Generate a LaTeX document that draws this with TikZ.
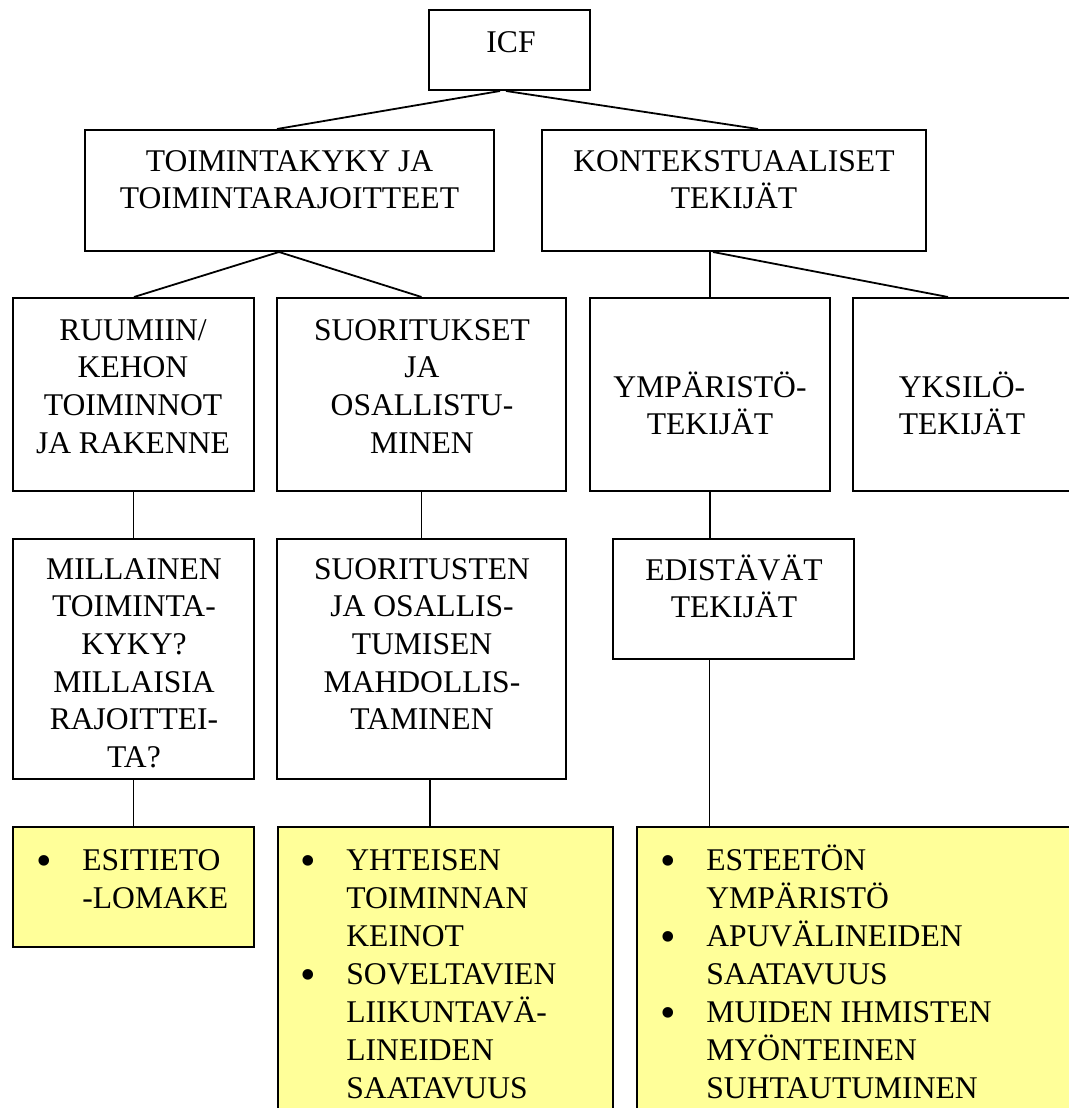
\documentclass[tikz,border=0pt]{standalone}
\usepackage{fontspec}
\setmainfont{Liberation Serif}
\definecolor{lightyel}{HTML}{FFFF99}
\newcommand\bul{\makebox[23pt][l]{\raisebox{-2.6pt}{\scalebox{1.4}{•}}}}
\newcommand\ind{\hspace*{23pt}}
\begin{document}
\begin{tikzpicture}[x=0.5pt,y=-0.5pt,
  box/.style={draw=black,line width=1pt,rectangle,inner sep=0pt,fill=white},
  ybox/.style={draw=black,line width=1.15pt,rectangle,inner sep=0pt,fill=lightyel},
  conn/.style={draw=black,line width=0.9pt},
  lbl/.style={inner sep=0pt,anchor=base,align=center,font=\fontsize{15.8}{18.85}\selectfont},
  blist/.style={inner sep=0pt,anchor=base west,align=left,font=\fontsize{15.8}{19}\selectfont}]
\useasboundingbox (0,0) rectangle (1069,1108);
\clip (0,0) rectangle (1069,1108);
% boxes
\node[box,minimum width=80.5pt,minimum height=40pt] (icf) at (509.5,50) {};
\node[box,minimum width=204.5pt,minimum height=60.5pt] (tk) at (289.5,190.5) {};
\node[box,minimum width=192pt,minimum height=60.5pt] (kt) at (734,190.5) {};
\node[box,minimum width=120.5pt,minimum height=96.5pt] (ru) at (133.5,394.5) {};
\node[box,minimum width=144.5pt,minimum height=96.5pt] (su) at (421.5,394.5) {};
\node[box,minimum width=120pt,minimum height=96.5pt] (ym) at (710,394.5) {};
\node[box,minimum width=109pt,minimum height=96.5pt] (yk) at (962,394.5) {};
\node[box,minimum width=120.5pt,minimum height=120pt] (mi) at (133.5,659) {};
\node[box,minimum width=144.5pt,minimum height=120pt] (sr) at (421.5,659) {};
\node[box,minimum width=120.5pt,minimum height=60pt] (ed) at (733.5,599) {};
\node[ybox,minimum width=120.5pt,minimum height=60pt] (y1) at (133.5,887) {};
\node[ybox,minimum width=167.5pt,minimum height=151.5pt] (y2) at (445.5,978.5) {};
\node[ybox,minimum width=226.5pt,minimum height=151.5pt] (y3) at (863.5,978.5) {};
% connector x positions
\coordinate (x497) at (500,0);
\coordinate (x506) at (506,0);
\coordinate (x277) at (277,0);
\coordinate (x758) at (758,0);
\coordinate (x279) at (279,0);
\coordinate (x134) at (134,0);
\coordinate (x421) at (421.5,0);
\coordinate (x710) at (710,0);
\coordinate (x713) at (713,0);
\coordinate (x948) at (948,0);
\coordinate (x133) at (133.5,0);
\coordinate (x430) at (430,0);
\coordinate (x709) at (709.5,0);
% connectors
\draw[conn] (icf.south -| x497) -- (tk.north -| x277);
\draw[conn] (icf.south -| x506) -- (kt.north -| x758);
\draw[conn] (tk.south -| x279) -- (ru.north -| x134);
\draw[conn] (tk.south -| x279) -- (su.north -| x421);
\draw[conn] (kt.south -| x710) -- (ym.north -| x710);
\draw[conn] (kt.south -| x713) -- (yk.north -| x948);
\draw[conn] (ru.south -| x133) -- (mi.north -| x133);
\draw[conn] (su.south -| x421) -- (sr.north -| x421);
\draw[conn] (ym.south -| x710) -- (ed.north -| x710);
\draw[conn] (mi.south -| x133) -- (y1.north -| x133);
\draw[conn] (sr.south -| x430) -- (y2.north -| x430);
\draw[conn] (ed.south -| x709) -- (y3.north -| x709);
% labels (anchor = baseline of last line)
\node[lbl] (ticf) at (511,52) {ICF};
\node[lbl] (ttk) at (289.5,208.7) {TOIMINTAKYKY JA\\TOIMINTARAJOITTEET};
\node[lbl] (tkt) at (734,208.7) {KONTEKSTUAALISET\\TEKIJÄT};
\node[lbl] (tru) at (133,453.1) {RUUMIIN/\\KEHON\\TOIMINNOT\\JA RAKENNE};
\node[lbl] (tsu) at (422,453.1) {SUORITUKSET\\JA\\OSALLISTU-\\MINEN};
\node[lbl] (tym) at (710,434.7) {YMPÄRISTÖ-\\TEKIJÄT};
\node[lbl] (tyk) at (962,434.7) {YKSILÖ-\\TEKIJÄT};
\node[lbl] (tmi) at (134,767.5) {MILLAINEN\\TOIMINTA-\\KYKY?\\MILLAISIA\\RAJOITTEI-\\TA?};
\node[lbl] (tsr) at (422,729.8) {SUORITUSTEN\\JA OSALLIS-\\TUMISEN\\MAHDOLLIS-\\TAMINEN};
\node[lbl] (ted) at (734,617.7) {EDISTÄVÄT\\TEKIJÄT};
\node[blist] (ty1) at (36,908) {\bul ESITIETO\\\ind -LOMAKE};
\node[blist] (ty2) at (300,1098) {\bul YHTEISEN\\\ind TOIMINNAN\\\ind KEINOT\\\bul SOVELTAVIEN\\\ind LIIKUNTAVÄ-\\\ind LINEIDEN\\\ind SAATAVUUS};
\node[blist] (ty3) at (660,1098) {\bul ESTEETÖN\\\ind YMPÄRISTÖ\\\bul APUVÄLINEIDEN\\\ind SAATAVUUS\\\bul MUIDEN IHMISTEN\\\ind MYÖNTEINEN\\\ind SUHTAUTUMINEN};
\end{tikzpicture}
\end{document}
